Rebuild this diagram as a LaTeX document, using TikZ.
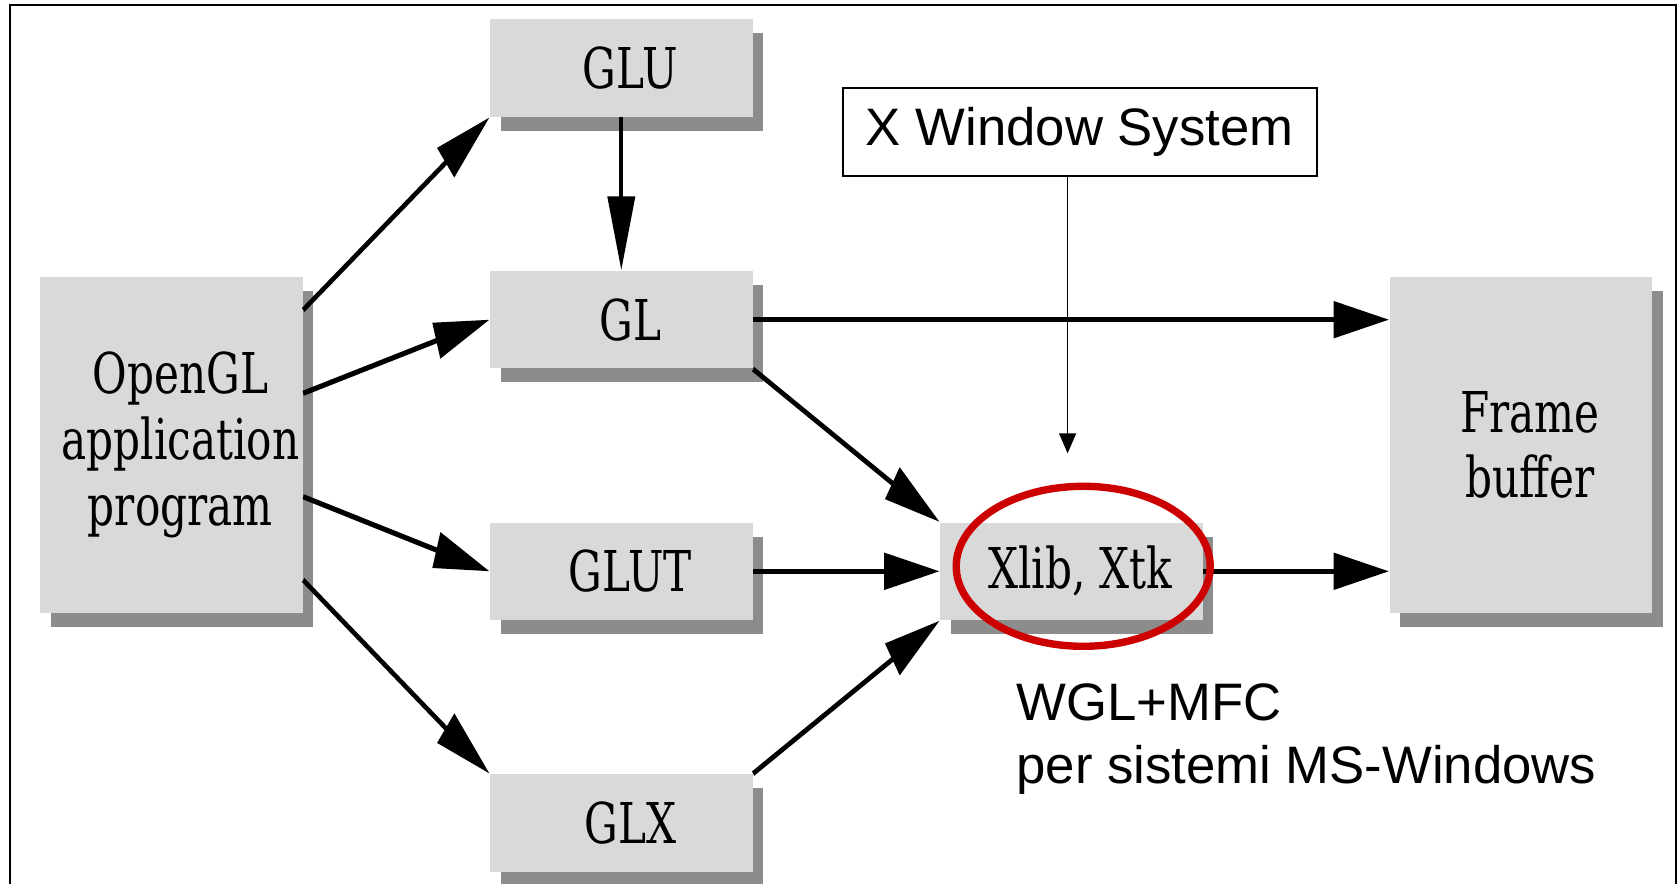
\documentclass[tikz,border=0pt]{standalone}
\usepackage{fontspec}
\usetikzlibrary{arrows.meta,shadows}
\newfontfamily\arialfont{Liberation Sans}
\newfontfamily\boxfont{DejaVu Serif}
\definecolor{boxgray}{RGB}{217,217,217}
\definecolor{shadowgray}{RGB}{140,140,140}
\definecolor{ringred}{RGB}{204,0,0}
\begin{document}
\begin{tikzpicture}[
    box/.style={fill=boxgray, inner sep=0pt, text width=3.5cm, align=center,
      minimum height=0.974cm, font=\boxfont\fontsize{16}{18.7}\selectfont,
      execute at begin node={\leftskip=2.4mm plus 1fil\rightskip=0pt plus 1fil
        \parfillskip=0pt\let\\\endgraf\relax},
      drop shadow={shadow xshift=0.14cm, shadow yshift=-0.14cm, fill=shadowgray, opacity=1}},
    tallbox/.style={box, minimum height=3.366cm},
    arr/.style={line width=1.5pt, -{Triangle[length=7.4mm, width=3.6mm]}},
    note/.style={font=\arialfont\fontsize{15}{18}\selectfont}]
\useasboundingbox (0,0) rectangle (16.8,8.83);
\draw [line width=0.6pt] (0.1,-0.2) -- (0.1,8.78) -- (16.756,8.78) -- (16.756,-0.2);
% library boxes, squeezed sideways
\begin{scope}[transform canvas={xscale=0.75}]
\path (2.285,4.38) node[tallbox] (app) {OpenGL\\application\\program};
\path (8.284,8.15) node[box] (glu) {GLU};
\path (8.284,5.633) node[box] (gl) {GL};
\path (8.284,3.117) node[box] (glut) {GLUT};
\path (8.284,0.6) node[box] (glx) {GLX};
\path (14.285,3.117) node[box] (xlib) {Xlib, Xtk};
\path (20.277,4.38) node[tallbox] (fb) {Frame\\buffer};
\draw [arr] ([yshift=1.35cm]app.east) -- (glu.south west);
\draw [arr] ([yshift=0.517cm]app.east) -- (gl.west);
\draw [arr] ([yshift=-0.517cm]app.east) -- (glut.west);
\draw [arr] ([yshift=-1.35cm]app.east) -- (glx.north west);
\draw [arr] (glu) -- (gl);
\draw [arr] (gl.east) -- (gl.east -| fb.west);
\draw [arr] (gl.south east) -- (xlib.north west);
\draw [arr] (glut) -- (xlib);
\draw [arr] (glx.north east) -- (xlib.south west);
\draw [arr] (xlib.east) -- (xlib.east -| fb.west);
\end{scope}
% notes on top
\path (10.797,7.51) node[note, draw, line width=0.6pt, fill=white,
  minimum width=4.74cm, minimum height=0.874cm] (xws) {X Window System};
\coordinate (xend) at (10.676,4.297);
\draw [line width=0.4pt, -{Triangle[length=2mm, width=1.7mm]}] (xws.south -| xend) -- (xend);
\draw [ringred, line width=2.1pt] (10.832,3.167) ellipse [x radius=1.27, y radius=0.8];
\path (10.157,0.997) node[note, anchor=base west, align=left, inner sep=0pt] (wgl)
  {WGL+MFC\\per sistemi MS-Windows};
\end{tikzpicture}
\end{document}
